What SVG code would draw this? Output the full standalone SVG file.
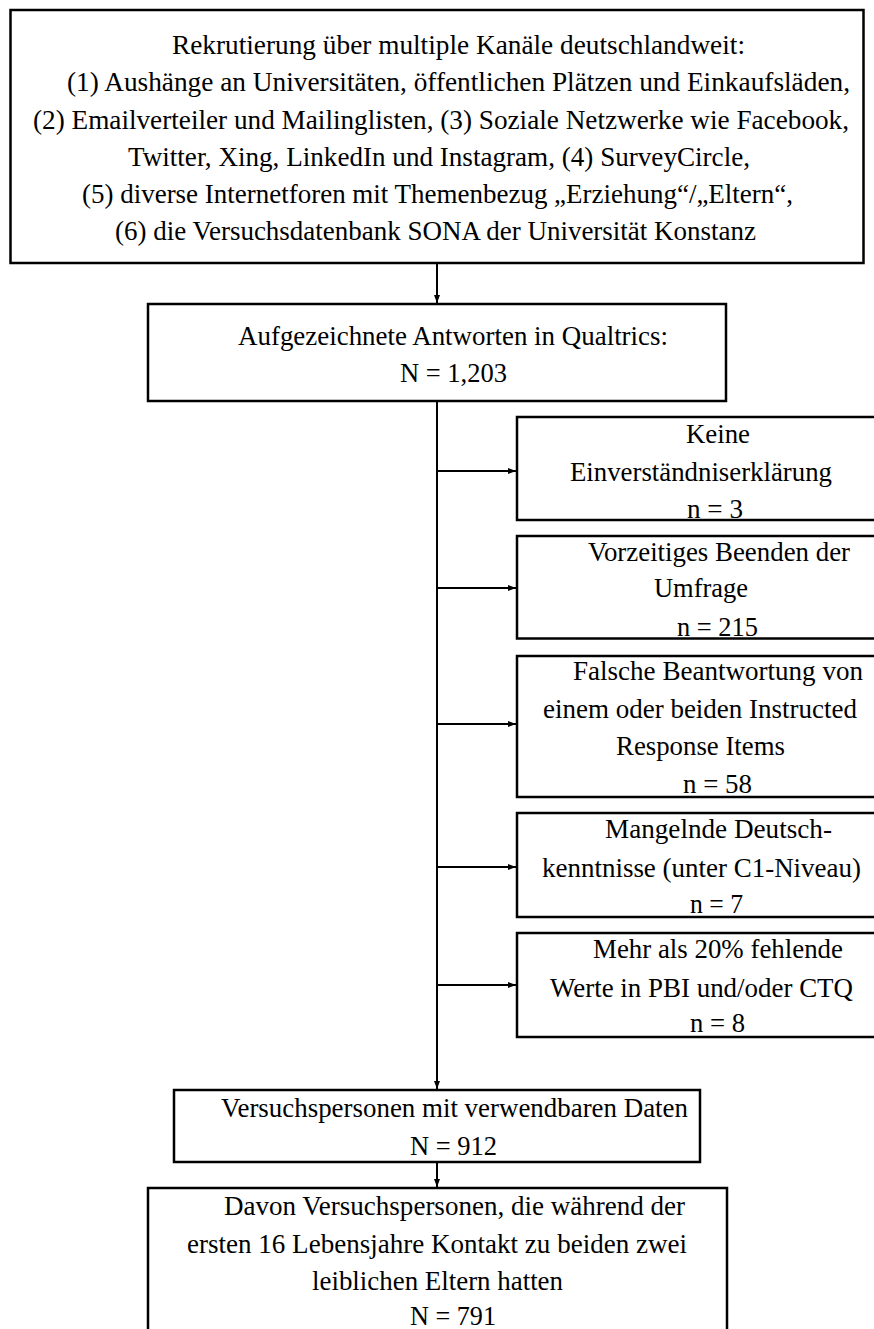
<svg xmlns="http://www.w3.org/2000/svg" width="874" height="1329" viewBox="0 0 874 1329">
<style>
.box{fill:#fff;stroke:#000;stroke-width:2.5}
.t{font-family:'Liberation Serif','Times New Roman','DejaVu Serif',serif;font-size:26.7px;fill:#000}
.c{stroke:#000;stroke-width:2;fill:none}
</style>
<defs>
<marker id="ah" viewBox="0 0 8 6" refX="8" refY="3" markerWidth="8" markerHeight="6" markerUnits="userSpaceOnUse" orient="auto">
<path d="M0,0 L8,3 L0,6 Z" fill="#000"/>
</marker>
</defs>
<rect width="874" height="1329" fill="#fff"/>
<g id="connectors">
<line class="c" x1="437" y1="263" x2="437" y2="303" marker-end="url(#ah)"/>
<line class="c" x1="437" y1="401" x2="437" y2="1089" marker-end="url(#ah)"/>
<line class="c" x1="437" y1="471" x2="516" y2="471" marker-end="url(#ah)"/>
<line class="c" x1="437" y1="588" x2="516" y2="588" marker-end="url(#ah)"/>
<line class="c" x1="437" y1="724" x2="516" y2="724" marker-end="url(#ah)"/>
<line class="c" x1="437" y1="867" x2="516" y2="867" marker-end="url(#ah)"/>
<line class="c" x1="437" y1="985" x2="516" y2="985" marker-end="url(#ah)"/>
<line class="c" x1="437" y1="1162" x2="437" y2="1187" marker-end="url(#ah)"/>
</g>
<g id="recruit">
<rect class="box" x="10.5" y="10" width="853" height="253"/>
<text class="t" font-family="Liberation Serif, serif" x="172" y="54" textLength="573" lengthAdjust="spacingAndGlyphs">Rekrutierung über multiple Kanäle deutschlandweit:</text>
<text class="t" x="67" y="91" textLength="783" lengthAdjust="spacingAndGlyphs">(1) Aushänge an Universitäten, öffentlichen Plätzen und Einkaufsläden,</text>
<text class="t" x="33" y="128.5" textLength="816" lengthAdjust="spacingAndGlyphs">(2) Emailverteiler und Mailinglisten, (3) Soziale Netzwerke wie Facebook,</text>
<text class="t" x="128" y="165.5" textLength="622" lengthAdjust="spacingAndGlyphs">Twitter, Xing, LinkedIn und Instagram, (4) SurveyCircle,</text>
<text class="t" x="82" y="202.5" textLength="711" lengthAdjust="spacingAndGlyphs">(5) diverse Internetforen mit Themenbezug „Erziehung“/„Eltern“,</text>
<text class="t" x="115" y="239.5" textLength="641" lengthAdjust="spacingAndGlyphs">(6) die Versuchsdatenbank SONA der Universität Konstanz</text>
</g>
<g id="qualtrics">
<rect class="box" x="148" y="304" width="578" height="97"/>
<text class="t" x="238" y="345" textLength="430" lengthAdjust="spacingAndGlyphs">Aufgezeichnete Antworten in Qualtrics:</text>
<text class="t" x="400" y="382" textLength="107" lengthAdjust="spacingAndGlyphs">N = 1,203</text>
</g>
<g id="ex1">
<rect class="box" x="517" y="417" width="370" height="103"/>
<text class="t" x="686" y="443" textLength="64" lengthAdjust="spacingAndGlyphs">Keine</text>
<text class="t" x="570" y="481" textLength="262" lengthAdjust="spacingAndGlyphs">Einverständniserklärung</text>
<text class="t" x="687" y="518" textLength="56" lengthAdjust="spacingAndGlyphs">n = 3</text>
</g>
<g id="ex2">
<rect class="box" x="517" y="536" width="370" height="102.5"/>
<text class="t" x="588" y="561" textLength="262" lengthAdjust="spacingAndGlyphs">Vorzeitiges Beenden der</text>
<text class="t" x="654" y="597" textLength="94" lengthAdjust="spacingAndGlyphs">Umfrage</text>
<text class="t" x="677" y="636" textLength="81" lengthAdjust="spacingAndGlyphs">n = 215</text>
</g>
<g id="ex3">
<rect class="box" x="517" y="656" width="370" height="141"/>
<text class="t" x="573" y="680" textLength="290" lengthAdjust="spacingAndGlyphs">Falsche Beantwortung von</text>
<text class="t" x="543" y="718" textLength="314" lengthAdjust="spacingAndGlyphs">einem oder beiden Instructed</text>
<text class="t" x="616" y="755" textLength="169" lengthAdjust="spacingAndGlyphs">Response Items</text>
<text class="t" x="683" y="793" textLength="69" lengthAdjust="spacingAndGlyphs">n = 58</text>
</g>
<g id="ex4">
<rect class="box" x="517" y="813" width="370" height="104"/>
<text class="t" x="605" y="838" textLength="227" lengthAdjust="spacingAndGlyphs">Mangelnde Deutsch-</text>
<text class="t" x="542" y="877" textLength="319" lengthAdjust="spacingAndGlyphs">kenntnisse (unter C1-Niveau)</text>
<text class="t" x="690" y="913" textLength="53" lengthAdjust="spacingAndGlyphs">n = 7</text>
</g>
<g id="ex5">
<rect class="box" x="517" y="933" width="370" height="104"/>
<text class="t" x="593" y="958" textLength="250" lengthAdjust="spacingAndGlyphs">Mehr als 20% fehlende</text>
<text class="t" x="550" y="997" textLength="303" lengthAdjust="spacingAndGlyphs">Werte in PBI und/oder CTQ</text>
<text class="t" x="690" y="1032" textLength="55" lengthAdjust="spacingAndGlyphs">n = 8</text>
</g>
<g id="valid">
<rect class="box" x="174" y="1090" width="526" height="72"/>
<text class="t" x="221" y="1117" textLength="467" lengthAdjust="spacingAndGlyphs">Versuchspersonen mit verwendbaren Daten</text>
<text class="t" x="410" y="1155" textLength="87" lengthAdjust="spacingAndGlyphs">N = 912</text>
</g>
<g id="final">
<rect class="box" x="148" y="1188" width="579" height="150"/>
<text class="t" x="224" y="1215" textLength="461" lengthAdjust="spacingAndGlyphs">Davon Versuchspersonen, die während der</text>
<text class="t" x="187" y="1253" textLength="500" lengthAdjust="spacingAndGlyphs">ersten 16 Lebensjahre Kontakt zu beiden zwei</text>
<text class="t" x="312" y="1290" textLength="251" lengthAdjust="spacingAndGlyphs">leiblichen Eltern hatten</text>
<text class="t" x="410" y="1325" textLength="86" lengthAdjust="spacingAndGlyphs">N = 791</text>
</g>
</svg>
